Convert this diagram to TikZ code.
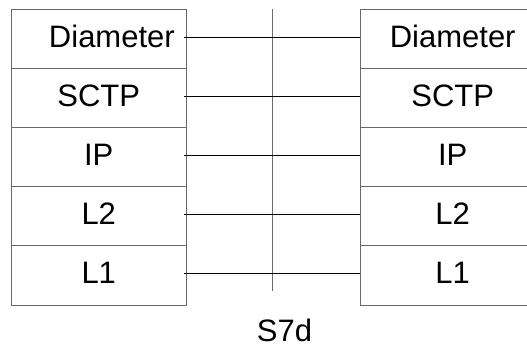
\documentclass[tikz,border=0pt]{standalone}
\usepackage{fontspec}
\setmainfont{Liberation Sans}
\definecolor{boxgray}{RGB}{105,105,105}
\begin{document}
\begin{tikzpicture}[x=1pt, y=-1pt,
    cell/.style={draw=boxgray, line width=1pt, minimum height=59.1pt,
        inner sep=0pt, text height=22pt, text depth=6pt,
        font=\fontsize{31}{36}\selectfont},
    lcell/.style={cell, minimum width=175.5pt},
    rcell/.style={cell, minimum width=184pt},
    link/.style={draw=black, line width=0.8pt}]
    \useasboundingbox (0,0) rectangle (527,347);
    \clip (0,0) rectangle (527,347);
    % left stack
    \node[lcell, text width=152pt, align=right] (lDia) at (98.75,39.05) {Diameter};
    \node[lcell] (lSctp) at (98.75,98.15) {SCTP};
    \node[lcell] (lIp) at (98.75,157.25) {IP};
    \node[lcell] (lLtwo) at (98.75,216.35) {L2};
    \node[lcell] (lLone) at (98.75,275.45) {L1};
    % right stack
    \node[rcell] (rDia) at (452.7,39.05) {Diameter};
    \node[rcell] (rSctp) at (452.7,98.15) {SCTP};
    \node[rcell] (rIp) at (452.7,157.25) {IP};
    \node[rcell] (rLtwo) at (452.7,216.35) {L2};
    \node[rcell] (rLone) at (452.7,275.45) {L1};
    % reference point line
    \coordinate (midtop) at (272,9);
    \coordinate (midbot) at (272,291);
    \draw[boxgray, line width=0.9pt] (midtop) -- (midbot);
    \draw[link] ([xshift=-3pt,yshift=2pt]lDia.east) -- ([yshift=2pt]rDia.west);
    \draw[link] ([xshift=-3pt,yshift=2pt]lSctp.east) -- ([yshift=2pt]rSctp.west);
    \draw[link] ([xshift=-3pt,yshift=2pt]lIp.east) -- ([yshift=2pt]rIp.west);
    \draw[link] ([xshift=-3pt,yshift=2pt]lLtwo.east) -- ([yshift=2pt]rLtwo.west);
    \draw[link] ([xshift=-3pt,yshift=2pt]lLone.east) -- ([yshift=2pt]rLone.west);
    \node[anchor=base, inner sep=0pt, font=\fontsize{31}{36}\selectfont] (ifname) at (284.5,341.5) {S7d};
\end{tikzpicture}
\end{document}
